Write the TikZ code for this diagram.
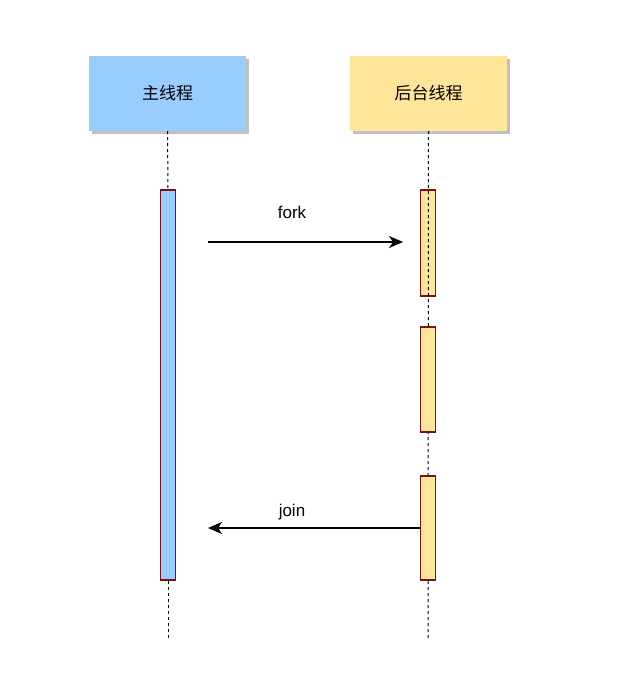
\documentclass[tikz,border=0pt]{standalone}
\usepackage{fontspec}
\setmainfont{Liberation Sans}
\newfontfamily\cjk{Noto Sans CJK SC}
\usepackage{tikz}
\usetikzlibrary{arrows.meta,shadows,positioning}
\definecolor{mainblue}{HTML}{99CCFF}
\definecolor{bgyellow}{HTML}{FFE599}
\definecolor{barred}{HTML}{7A1212}
\definecolor{shadowgray}{HTML}{C0C0C0}

\begin{document}
\begin{tikzpicture}[x=1pt,y=-1pt,font=\fontsize{17}{20}\selectfont,
  header/.style={minimum width=157pt,minimum height=75pt,inner sep=0pt,font=\cjk\fontsize{17}{20}\selectfont,
    drop shadow={shadow xshift=3pt,shadow yshift=-3pt,fill=shadowgray,opacity=1}},
  actbar/.style={draw=barred,line width=1.3pt,minimum width=15pt,inner sep=0pt},
  lifeline/.style={dash pattern=on 3pt off 3pt,line width=1pt},
  msg/.style={-{Stealth[length=14pt,width=12pt,inset=4pt]},line width=1.3pt}]
\useasboundingbox (0,0) rectangle (627,688);
% headers
\node[header,fill=mainblue] (mainhdr) at (167.5,93.5) {主线程};
\node[header,fill=bgyellow] (bghdr) at (428.5,93.5) {后台线程};
\coordinate (mainend) at (168,640);
\coordinate (bgend) at (428,640);
% bars and lifelines
\node[actbar,fill=mainblue,minimum height=390pt] (mainbar) at (168,385) {};
\node[actbar,fill=bgyellow,minimum height=106pt] (bgbar1) at (428,243) {};
\draw[lifeline] (mainhdr.south) -- (mainbar.north);
\draw[lifeline] (mainbar.south) -- (mainend);
\draw[lifeline] (bghdr.south) -- (bgend);
\node[actbar,fill=bgyellow,minimum height=105pt] (bgbar2) at (428,379.5) {};
\node[actbar,fill=bgyellow,minimum height=104pt] (bgbar3) at (428,528) {};
% messages
\coordinate (forkstart) at (208,242);
\coordinate (forkend) at (403,242);
\coordinate (joinend) at (208,528);
\draw[msg] (forkstart) -- (forkend);
\draw[msg] (bgbar3.west) -- (joinend);
\node (forklbl) at (292,212) {fork};
\node (joinlbl) at (292,512) {join};
\end{tikzpicture}
\end{document}
